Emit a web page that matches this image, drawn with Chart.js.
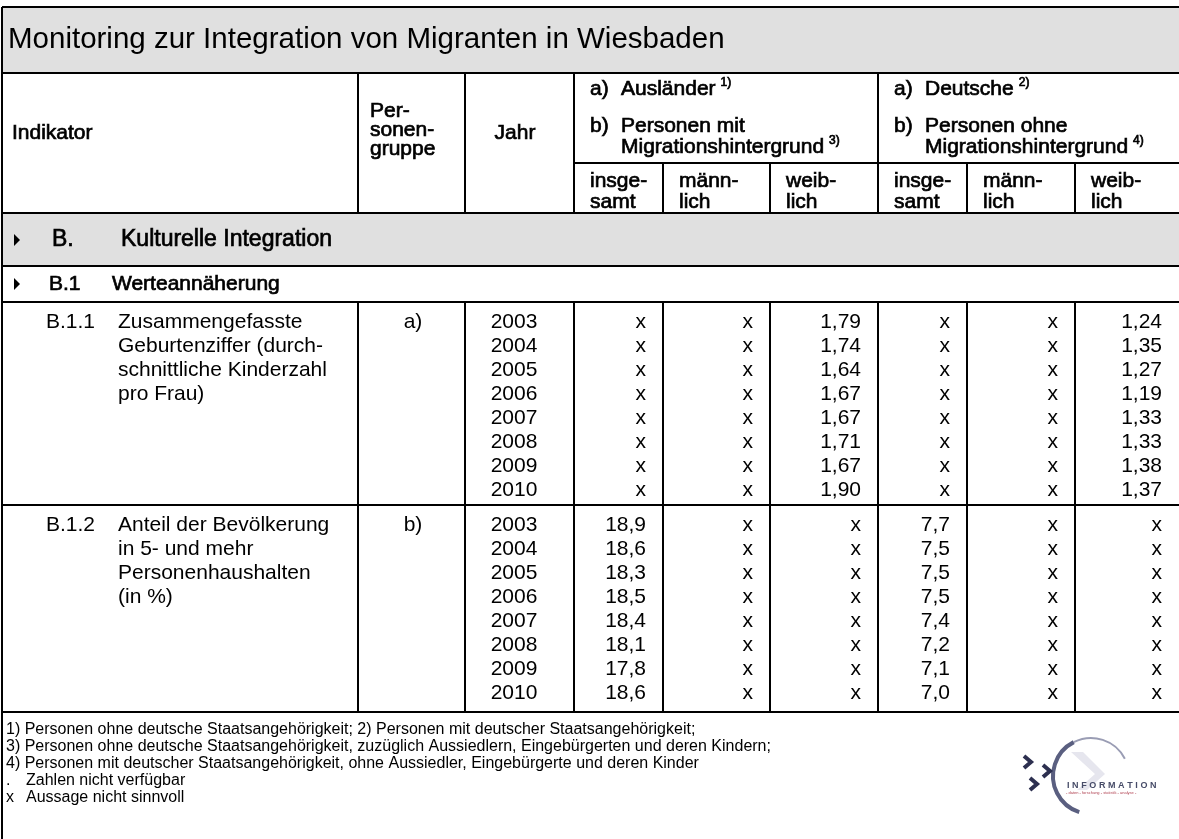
<!DOCTYPE html>
<html lang="de">
<head>
<meta charset="utf-8">
<title>Monitoring zur Integration von Migranten in Wiesbaden</title>
<script src="https://cdn.jsdelivr.net/npm/chart.js@4.4.1/dist/chart.umd.min.js"></script>
<style>
  html, body { margin: 0; padding: 0; background: #fff; }
  canvas { display: block; }
</style>
</head>
<body>
<canvas id="table" width="1179" height="839"></canvas>
<script>
// Werte der Tabelle (x = Aussage nicht sinnvoll)
const years = [2003, 2004, 2005, 2006, 2007, 2008, 2009, 2010];
const auslaenderWeiblich = [1.79, 1.74, 1.64, 1.67, 1.67, 1.71, 1.67, 1.90];
const deutscheWeiblich = [1.24, 1.35, 1.27, 1.19, 1.33, 1.33, 1.38, 1.37];
const mitMigrationInsgesamt = [18.9, 18.6, 18.3, 18.5, 18.4, 18.1, 17.8, 18.6];
const ohneMigrationInsgesamt = [7.7, 7.5, 7.5, 7.5, 7.4, 7.2, 7.1, 7.0];

const subColumns = ['insge-|samt', 'männ-|lich', 'weib-|lich'];
const footnotes = [
  '1) Personen ohne deutsche Staatsangehörigkeit; 2) Personen mit deutscher Staatsangehörigkeit;',
  '3) Personen ohne deutsche Staatsangehörigkeit, zuzüglich Aussiedlern, Eingebürgerten und deren Kindern;',
  '4) Personen mit deutscher Staatsangehörigkeit, ohne Aussiedler, Eingebürgerte und deren Kinder'
];
const legendSigns = [['.', 'Zahlen nicht verfügbar'], ['x', 'Aussage nicht sinnvoll']];

// two indicator blocks, six value columns each (null -> "x")
const blocks = [
  {
    nr: 'B.1.1', gruppe: 'a)', digits: 2,
    text: ['Zusammengefasste', 'Geburtenziffer (durch-', 'schnittliche Kinderzahl', 'pro Frau)'],
    cols: [null, null, auslaenderWeiblich, null, null, deutscheWeiblich]
  },
  {
    nr: 'B.1.2', gruppe: 'b)', digits: 1,
    text: ['Anteil der Bevölkerung', 'in 5- und mehr', 'Personenhaushalten', '(in %)'],
    cols: [mitMigrationInsgesamt, null, null, ohneMigrationInsgesamt, null, null]
  }
];

// layout in canvas units
const colEdges = [2, 358, 465, 574, 663, 770, 878, 967, 1075, 1179];
const rowsY = { top: 7, title: 73, group: 163, head: 213, sec: 266, sub: 302, block: [302, 505, 712] };
const rowH = 24;
const FONT = '"Liberation Sans", Arial, Helvetica, sans-serif';

const fmt = (v, d) => v.toFixed(d).replace('.', ',');

const tablePlugin = {
  id: 'tablePlugin',
  afterDraw(chart) {
    const ctx = chart.ctx;
    const X = v => chart.scales.x.getPixelForValue(v);
    const Y = v => chart.scales.y.getPixelForValue(v);

    const text = (s, x, y, size, align = 'left', heavy = false) => {
      ctx.font = size + 'px ' + FONT;
      ctx.textAlign = align;
      ctx.textBaseline = 'middle';
      ctx.fillStyle = '#000';
      ctx.fillText(s, X(x), Y(y));
      if (heavy) {
        ctx.lineWidth = 0.7;
        ctx.strokeStyle = '#000';
        ctx.strokeText(s, X(x), Y(y));
      }
      return ctx.measureText(s).width;
    };
    const hline = (y, x0 = colEdges[0], x1 = colEdges[9]) => {
      ctx.beginPath();
      ctx.moveTo(X(x0), Y(y));
      ctx.lineTo(X(x1), Y(y));
      ctx.stroke();
    };
    const vline = (x, y0, y1) => {
      ctx.beginPath();
      ctx.moveTo(X(x), Y(y0));
      ctx.lineTo(X(x), Y(y1));
      ctx.stroke();
    };
    const triangle = (x, y) => {
      ctx.beginPath();
      ctx.moveTo(X(x), Y(y - 6));
      ctx.lineTo(X(x + 6), Y(y));
      ctx.lineTo(X(x), Y(y + 6));
      ctx.closePath();
      ctx.fillStyle = '#000';
      ctx.fill();
    };

    ctx.save();
    // grey bands
    ctx.fillStyle = '#e0e0e0';
    ctx.fillRect(X(colEdges[0]), Y(rowsY.top), X(colEdges[9]) - X(colEdges[0]), Y(rowsY.title) - Y(rowsY.top));
    ctx.fillRect(X(colEdges[0]), Y(rowsY.head), X(colEdges[9]) - X(colEdges[0]), Y(rowsY.sec) - Y(rowsY.head));

    // grid
    ctx.strokeStyle = '#000';
    ctx.lineWidth = 2;
    [rowsY.top, rowsY.title, rowsY.head, rowsY.sec, rowsY.sub, rowsY.block[1], rowsY.block[2]].forEach(y => hline(y));
    hline(rowsY.group, colEdges[3]);
    vline(colEdges[0], rowsY.top, 839);
    [1, 2, 3, 6].forEach(i => {
      vline(colEdges[i], rowsY.title, rowsY.head);
      vline(colEdges[i], rowsY.sub, rowsY.block[2]);
    });
    [4, 5, 7, 8].forEach(i => {
      vline(colEdges[i], rowsY.group, rowsY.head);
      vline(colEdges[i], rowsY.sub, rowsY.block[2]);
    });

    // title
    text('Monitoring zur Integration von Migranten in Wiesbaden', 8, 40, 29.5);

    // column headers
    const H = 21;
    text('Indikator', 12, 133, H, 'left', true);
    ['Per-', 'sonen-', 'gruppe'].forEach((s, i) => text(s, 370, 111 + i * 19, H, 'left', true));
    text('Jahr', 515, 133, H, 'center', true);

    const groups = [
      { x: colEdges[3], a: 'Ausländer', sa: '1)', b: 'Personen mit', sb: '3)' },
      { x: colEdges[6], a: 'Deutsche', sa: '2)', b: 'Personen ohne', sb: '4)' }
    ];
    groups.forEach(g => {
      text('a)', g.x + 16, 89, H, 'left', true);
      let w = text(g.a, g.x + 47, 89, H, 'left', true);
      text(g.sa, g.x + 47 + w + 5, 83, 12, 'left', true);
      text('b)', g.x + 16, 126, H, 'left', true);
      text(g.b, g.x + 47, 126, H, 'left', true);
      w = text('Migrationshintergrund', g.x + 47, 147, H, 'left', true);
      text(g.sb, g.x + 47 + w + 5, 141, 12, 'left', true);
    });
    for (let c = 0; c < 6; c++) {
      const [l1, l2] = subColumns[c % 3].split('|');
      text(l1, colEdges[3 + c] + 16, 181, H, 'left', true);
      text(l2, colEdges[3 + c] + 16, 202, H, 'left', true);
    }

    // section rows
    triangle(14, 240);
    text('B.', 52, 240, 23, 'left', true);
    text('Kulturelle Integration', 121, 240, 23, 'left', true);
    triangle(14, 284);
    text('B.1', 49, 284, 21, 'left', true);
    text('Werteannäherung', 112, 284, 21, 'left', true);

    // data blocks
    const D = 21;
    blocks.forEach((b, bi) => {
      const y0 = rowsY.block[bi] + 20;
      text(b.nr, 46, y0, D);
      b.text.forEach((s, i) => text(s, 118, y0 + i * rowH, D));
      text(b.gruppe, 413, y0, D, 'center');
      years.forEach((yr, r) => {
        const y = y0 + r * rowH;
        text(String(yr), 514, y, D, 'center');
        b.cols.forEach((col, c) => {
          const s = col ? fmt(col[r], b.digits) : 'x';
          text(s, colEdges[4 + c] - 17, y, D, 'right');
        });
      });
    });

    // footnotes
    const F = 16, fy = 730, fstep = 17;
    footnotes.forEach((s, i) => text(s, 6, fy + i * fstep, F));
    legendSigns.forEach(([sign, s], i) => {
      text(sign, 6, fy + (3 + i) * fstep, F);
      text(s, 26, fy + (3 + i) * fstep, F);
    });

    // logo
    const cx = X(1091), cy = Y(776);
    ctx.fillStyle = '#e6e6ee';
    ctx.beginPath();
    ctx.moveTo(cx - 20, cy - 24);
    ctx.lineTo(cx + 4, cy - 2);
    ctx.lineTo(cx - 14, cy + 14);
    ctx.lineTo(cx - 4, cy + 14);
    ctx.lineTo(cx + 14, cy - 2);
    ctx.lineTo(cx - 8, cy - 24);
    ctx.closePath();
    ctx.fill();
    ctx.strokeStyle = '#5a5f80';
    ctx.lineWidth = 4;
    ctx.beginPath();
    ctx.arc(cx, cy, 38, Math.PI * 0.6, Math.PI * 1.35);
    ctx.stroke();
    ctx.strokeStyle = '#9a9db4';
    ctx.lineWidth = 2;
    ctx.beginPath();
    ctx.arc(cx, cy, 38, Math.PI * 1.35, Math.PI * 1.85);
    ctx.stroke();
    ctx.strokeStyle = '#2d3050';
    ctx.lineWidth = 4;
    [[1024, 762], [1043, 771], [1030, 784]].forEach(([x, y]) => {
      ctx.beginPath();
      ctx.moveTo(X(x), Y(y - 6));
      ctx.lineTo(X(x + 7), Y(y));
      ctx.lineTo(X(x), Y(y + 6));
      ctx.stroke();
    });
    ctx.font = 'bold 9px ' + FONT;
    ctx.fillStyle = '#474c68';
    ctx.textAlign = 'left';
    ctx.textBaseline = 'middle';
    let lx = X(1067);
    'INFORMATION'.split('').forEach(ch => {
      ctx.fillText(ch, lx, Y(786));
      lx += ctx.measureText(ch).width + 2.6;
    });
    ctx.font = '4px ' + FONT;
    ctx.fillStyle = '#b04050';
    ctx.fillText('- daten - forschung - statistik - analyse -', X(1066), Y(793));
    ctx.restore();
  }
};

new Chart(document.getElementById('table'), {
  type: 'scatter',
  data: { datasets: [] },
  options: {
    responsive: false,
    animation: false,
    devicePixelRatio: 1,
    layout: { padding: 0 },
    plugins: { legend: { display: false }, tooltip: { enabled: false } },
    scales: {
      x: { type: 'linear', min: 0, max: 1179, display: false },
      y: { type: 'linear', min: 0, max: 839, reverse: true, display: false }
    }
  },
  plugins: [tablePlugin]
});
</script>
</body>
</html>
